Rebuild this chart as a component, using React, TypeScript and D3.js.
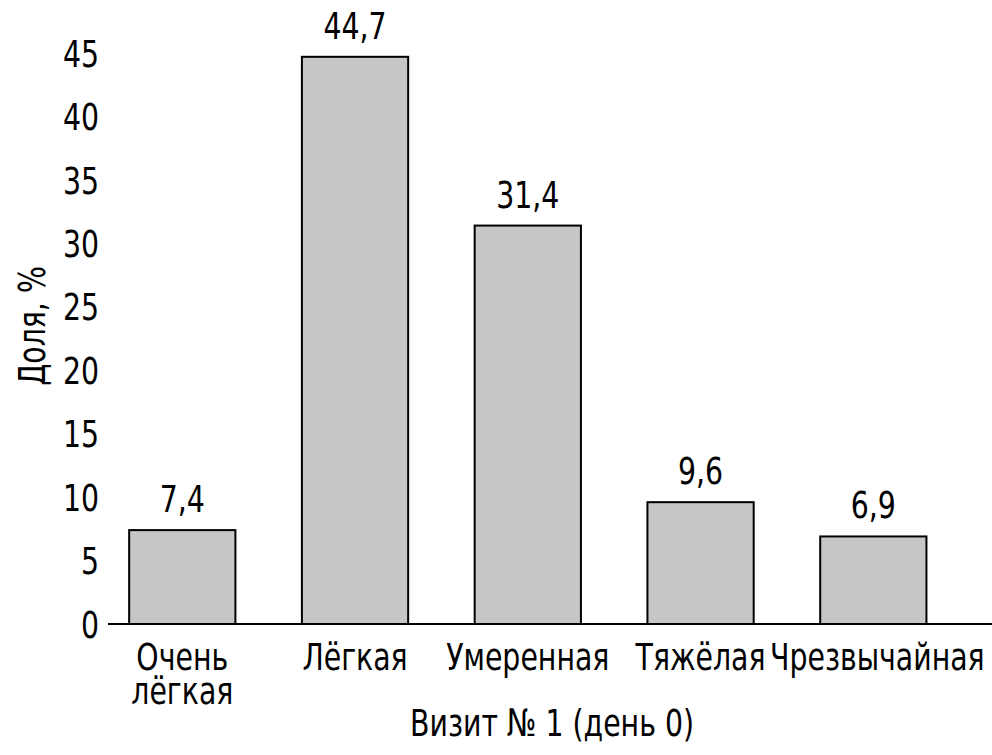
import React from "react";
import * as d3 from "d3";

const categories: string[][] = [["Очень", "лёгкая"], ["Лёгкая"], ["Умеренная"], ["Тяжёлая"], ["Чрезвычайная"]];
const values: number[] = [7.4, 44.7, 31.4, 9.6, 6.9];
const valueLabels: string[] = ["7,4", "44,7", "31,4", "9,6", "6,9"];
const yTicks: number[] = [0, 5, 10, 15, 20, 25, 30, 35, 40, 45];
const yTitle = "Доля, %";
const xTitle = "Визит № 1 (день 0)";

const W = 992;
const H = 755;
const FONT = "'DejaVu Sans Condensed', 'DejaVu Sans', sans-serif";
const SX = 0.83;

function T(props: {
  x: number;
  y: number;
  anchor?: "start" | "middle" | "end";
  dy?: string;
  rotate?: number;
  children: React.ReactNode;
}) {
  const { x, y, anchor = "middle", dy, rotate = 0, children } = props;
  return (
    <text
      transform={`translate(${x},${y}) rotate(${rotate}) scale(${SX},1)`}
      textAnchor={anchor}
      dy={dy}
      fontSize={38}
      fill="#000"
    >
      {children}
    </text>
  );
}

export default function App() {
  const keys = categories.map((c) => c.join(" "));
  const x = d3
    .scaleBand<string>()
    .domain(keys)
    .range([95.9, 959.7])
    .paddingInner(0.385)
    .paddingOuter(0.1925);
  const y = d3.scaleLinear().domain([0, 45]).range([624, 53]);
  const cx = (i: number) => x(keys[i])! + x.bandwidth() / 2;

  return (
    <svg
      width={W}
      height={H}
      style={{ position: "absolute", left: 0, top: 0, background: "#fff" }}
      fontFamily={FONT}
    >
      {yTicks.map((t) => (
        <T key={t} x={99} y={y(t)} dy="0.36em" anchor="end">
          {t}
        </T>
      ))}
      {values.map((v, i) => (
        <rect
          key={i}
          x={x(keys[i])!}
          y={y(v)}
          width={x.bandwidth()}
          height={y(0) - y(v)}
          fill="#c6c6c6"
          stroke="#000"
          strokeWidth={2}
        />
      ))}
      {values.map((v, i) => (
        <T key={"v" + i} x={cx(i)} y={y(v) - 18}>
          {valueLabels[i]}
        </T>
      ))}
      <line x1={108} x2={992} y1={y(0)} y2={y(0)} stroke="#000" strokeWidth={2} />
      {categories.map((lines, i) =>
        lines.map((l, j) => (
          <T key={"c" + i + "-" + j} x={cx(i) + (i === 4 ? 4 : 0)} y={670 + j * 34}>
            {l}
          </T>
        ))
      )}
      <T x={552} y={736}>
        {xTitle}
      </T>
      <T x={45} y={326} rotate={-90}>
        {yTitle}
      </T>
    </svg>
  );
}
